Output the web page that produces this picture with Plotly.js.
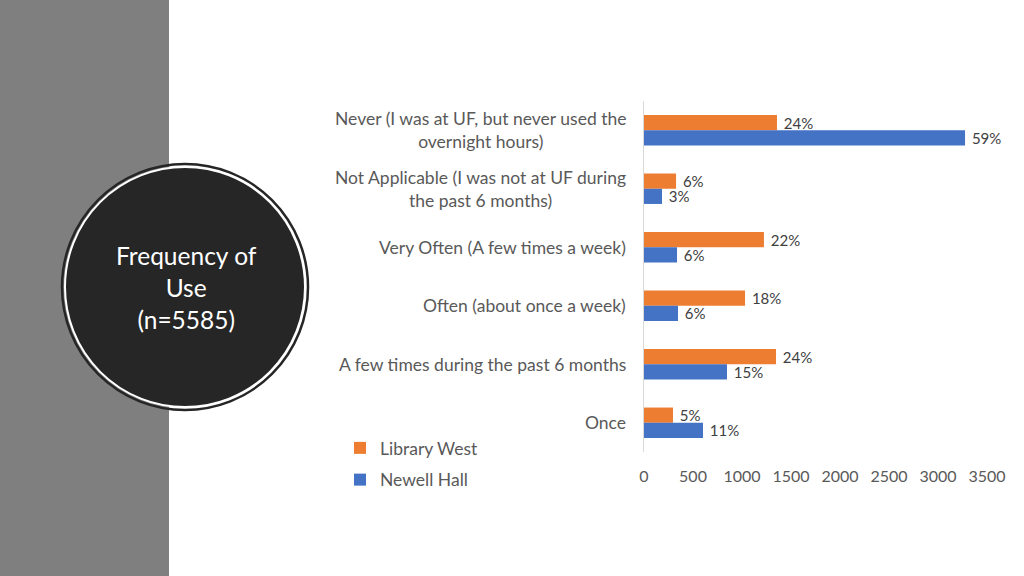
<!DOCTYPE html>
<html>
<head>
<meta charset="utf-8">
<script src="https://cdn.plot.ly/plotly-3.0.1.min.js"></script>
<style>
  html, body { margin: 0; padding: 0; background: #fff; }
  #chart { width: 1024px; height: 576px; }
</style>
</head>
<body>
<div id="chart"></div>
<script>
// categories, top to bottom
let categories = [
    "Never (I was at UF, but never used the<br>overnight hours)",
    "Not Applicable (I was not at UF during<br>the past 6 months)",
    "Very Often (A few times a week)",
    "Often (about once a week)",
    "A few times during the past 6 months",
    "Once"
];
let libraryWest = [1357, 327, 1224, 1031, 1347, 296];
let newellHall = [3276, 184, 337, 347, 847, 602];
let libraryWestPct = ["24%", "6%", "22%", "18%", "24%", "5%"];
let newellHallPct = ["59%", "3%", "6%", "6%", "15%", "11%"];
let seriesNames = ["Library West", "Newell Hall"];
let titleText = "Frequency of<br>Use<br>(n=5585)";

// plot area in pixels
const L = 644, R = 987, T = 101, B = 452;
const W = 1024, H = 576;
const px = x => (x - L) / (R - L);   // pixel -> paper x
const py = y => (B - y) / (B - T);   // pixel -> paper y

const FONT = "Lato, 'Open Sans', sans-serif";
const labelFont = { family: FONT, size: 15, color: "#404040" };

let traces = [
    {
        type: "bar", orientation: "h", name: seriesNames[0], legendgroup: "a",
        y: categories, x: libraryWest, text: libraryWestPct, texttemplate: "\u00a0%{text}",
        textposition: "outside", textfont: labelFont, cliponaxis: false,
        constraintext: "none", marker: { color: "#ED7D31" }, hoverinfo: "x+name"
    },
    {
        type: "bar", orientation: "h", name: seriesNames[1], legendgroup: "b",
        y: categories, x: newellHall, text: newellHallPct, texttemplate: "\u00a0%{text}",
        textposition: "outside", textfont: labelFont, cliponaxis: false,
        constraintext: "none", marker: { color: "#4472C4" }, hoverinfo: "x+name"
    }
];

// category labels as centred annotations (multi-line tick labels can't be centred)
let annotations = categories.map(c => ({
    xref: "paper", yref: "y", x: 0, y: c, xanchor: "right", xshift: -16,
    text: c, align: "center", showarrow: false,
    font: { family: FONT, size: 17.5, color: "#595959" }
}));

// text in the circle
annotations.push({
    xref: "paper", yref: "paper", x: px(186), y: py(287),
    xanchor: "center", yanchor: "middle", align: "center", showarrow: false,
    text: titleText,
    font: { family: FONT, size: 24.5, color: "#ffffff" }
});

let cx = 185, cy = 287, r = 118;
let shapes = [
    { type: "rect", xref: "paper", yref: "paper", x0: px(0), x1: px(169), y0: py(H), y1: py(0),
      fillcolor: "#7F7F7F", line: { width: 0 }, layer: "below" },
    { type: "circle", xref: "paper", yref: "paper",
      x0: px(cx - r - 5), x1: px(cx + r + 5), y0: py(cy + r + 5), y1: py(cy - r - 5),
      fillcolor: "rgba(0,0,0,0)", line: { color: "#262626", width: 2.5 }, layer: "below" },
    { type: "circle", xref: "paper", yref: "paper",
      x0: px(cx - r - 2), x1: px(cx + r + 2), y0: py(cy + r + 2), y1: py(cy - r - 2),
      fillcolor: "#262626", line: { color: "#ffffff", width: 2 }, layer: "below" }
];

let layout = {
    width: W, height: H,
    margin: { l: L, r: W - R, t: T, b: H - B },
    paper_bgcolor: "#ffffff", plot_bgcolor: "#ffffff",
    barmode: "group", bargap: 0.48, bargroupgap: 0,
    font: { family: FONT, color: "#595959" },
    xaxis: {
        range: [0, 3500], dtick: 500, showgrid: false, zeroline: false,
        showline: false, ticks: "outside", ticklen: 10, tickcolor: "rgba(0,0,0,0)",
        tickfont: { size: 16, color: "#595959" }
    },
    yaxis: {
        type: "category", categoryorder: "array", categoryarray: categories,
        autorange: "reversed", showticklabels: false, showgrid: false,
        zeroline: false, showline: true, linecolor: "#D9D9D9", linewidth: 1, ticks: ""
    },
    showlegend: true,
    legend: {
        x: px(340), y: py(430), xanchor: "left", yanchor: "top",
        traceorder: "grouped", tracegroupgap: 6,
        font: { size: 17.5, color: "#595959" }, bgcolor: "rgba(0,0,0,0)"
    },
    annotations: annotations,
    shapes: shapes
};

Plotly.newPlot("chart", traces, layout, { displayModeBar: false, staticPlot: true });
</script>
</body>
</html>
